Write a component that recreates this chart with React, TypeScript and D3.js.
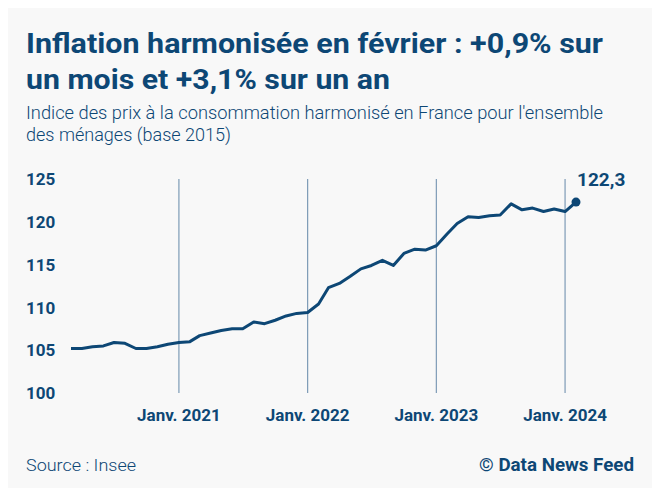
import * as React from "react";
import * as d3 from "d3";

// Indice des prix harmonisé, mars 2020 -> février 2024 (base 2015)
const startMonth = "2020-03";
const hicpValues = [
    105.2, 105.2, 105.4, 105.5, 105.9, 105.8, 105.2, 105.2, 105.4, 105.7,
    105.9, 106.0, 106.7, 107.0, 107.3, 107.5, 107.5, 108.3, 108.1, 108.5,
    109.0, 109.3, 109.4, 110.4, 112.3, 112.8, 113.6, 114.5, 114.9, 115.5,
    114.9, 116.3, 116.8, 116.7, 117.2, 118.6, 119.8, 120.6, 120.5, 120.7,
    120.8, 122.1, 121.4, 121.6, 121.2, 121.5, 121.2, 122.3,
];
const yTicks = [100, 105, 110, 115, 120, 125];
const yearTicks = ["2021-01", "2022-01", "2023-01", "2024-01"];
const yearLabels = ["Janv. 2021", "Janv. 2022", "Janv. 2023", "Janv. 2024"];
const lastLabel = "122,3";

const titleLines = ["Inflation harmonisée en février : +0,9% sur", "un mois et +3,1% sur un an"];
const subtitleLines = ["Indice des prix à la consommation harmonisé en France pour l'ensemble", "des ménages (base 2015)"];

const W = 660;
const H = 496;
const DARK = "#0d4775";
const FONT = "Roboto, 'Noto Sans', sans-serif";

const parseMonth = d3.timeParse("%Y-%m");

// widths measured on the reference so the text fills the same room
const titleWidths = [577, 364];
const subtitleWidths = [577, 205];

export default function App() {
    const start = parseMonth(startMonth) as Date;
    const data = hicpValues.map((v, i) => ({ date: d3.timeMonth.offset(start, i), value: v }));
    const last = data[data.length - 1];

    const x = d3.scaleTime().domain([data[0].date, last.date]).range([71, 576]);
    const y = d3.scaleLinear().domain([100, 125]).range([393, 179]);

    const line = d3.line<{ date: Date, value: number }>()
        .x(d => x(d.date))
        .y(d => y(d.value));

    return <div style={{ margin: -8 }}>
        <svg width={W} height={H} style={{ display: "block", background: "#f8f8f8", fontFamily: FONT }}>
            <g fill={DARK} fontWeight={700} fontSize={28}>
                {titleLines.map((t, i) => <text key={i} x={26} y={53 + i * 36}
                    textLength={titleWidths[i]} lengthAdjust="spacingAndGlyphs">{t}</text>)}
            </g>
            <g fill={DARK} fontWeight={300} fontSize={18}>
                {subtitleLines.map((t, i) => <text key={i} x={26} y={119 + i * 22}
                    textLength={subtitleWidths[i]} lengthAdjust="spacingAndGlyphs">{t}</text>)}
            </g>

            {yearTicks.map((t, i) => {
                const xx = x(parseMonth(t) as Date);
                return <g key={t}>
                    <line x1={xx} x2={xx} y1={y(125)} y2={y(100)} stroke="#7d9bb6" strokeWidth={1.2} />
                    <text x={xx} y={421} textAnchor="middle" fill={DARK} fontWeight={700} fontSize={17}>{yearLabels[i]}</text>
                </g>;
            })}

            {yTicks.map(t => <text key={t} x={26} y={y(t)} dy="0.36em" fill={DARK} fontWeight={700} fontSize={17}>{t}</text>)}

            <path d={line(data) || ""} fill="none" stroke={DARK} strokeWidth={3} strokeLinejoin="round" />
            <circle cx={x(last.date)} cy={y(last.value)} r={4.5} fill={DARK} />
            <text x={x(last.date) + 1} y={186} fill={DARK} fontWeight={700} fontSize={19}>{lastLabel}</text>

            <text x={26} y={471} fill={DARK} fontWeight={300} fontSize={17} textLength={110} lengthAdjust="spacingAndGlyphs">Source : Insee</text>
            <text x={479} y={471} fill={DARK} fontWeight={700} fontSize={18} textLength={155} lengthAdjust="spacingAndGlyphs">© Data News Feed</text>
        </svg>
    </div>;
}
